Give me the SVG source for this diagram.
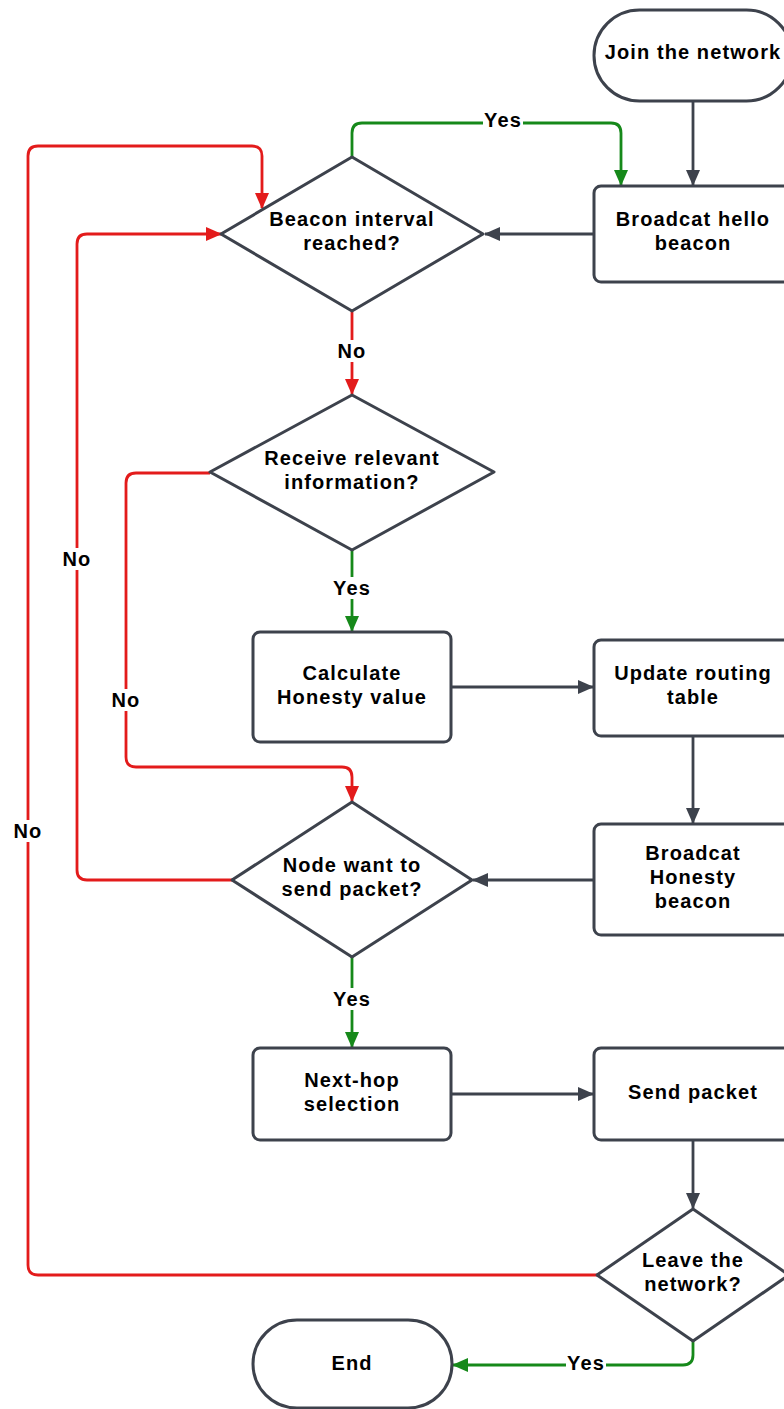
<svg xmlns="http://www.w3.org/2000/svg" width="784" height="1409" viewBox="0 0 784 1409">
<style>
.n{fill:#fff;stroke:#3d424c;stroke-width:3;stroke-linejoin:round}
.t{font-family:"Liberation Sans",Arial,sans-serif;font-weight:bold;font-size:20px;letter-spacing:1.1px;fill:#000;text-anchor:middle}
.c{fill:none;stroke-width:2.8;stroke-linejoin:round}
.k{stroke:#3d424c}
.r{stroke:#e31b1b}
.g{stroke:#16891a}
.lb{fill:#fff}
</style>
<defs>
<marker id="ak" markerUnits="userSpaceOnUse" markerWidth="16" markerHeight="14" refX="15" refY="7" orient="auto"><path d="M0,0 L16,7 L0,14 Z" fill="#3d424c"/></marker>
<marker id="ar" markerUnits="userSpaceOnUse" markerWidth="16" markerHeight="14" refX="15" refY="7" orient="auto"><path d="M0,0 L16,7 L0,14 Z" fill="#e31b1b"/></marker>
<marker id="ag" markerUnits="userSpaceOnUse" markerWidth="16" markerHeight="14" refX="15" refY="7" orient="auto"><path d="M0,0 L16,7 L0,14 Z" fill="#16891a"/></marker>
</defs>
<rect width="784" height="1409" fill="#fff"/>
<g id="connectors">
<path class="c k" d="M693,101 V185" marker-end="url(#ak)"/>
<path class="c k" d="M594,234 H485" marker-end="url(#ak)"/>
<path class="c g" d="M352,157 V133 Q352,123 362,123 H611 Q621,123 621,133 V185" marker-end="url(#ag)"/>
<path class="c r" d="M597,1275 H38 Q28,1275 28,1265 V156 Q28,146 38,146 H252 Q262,146 262,156 V208" marker-end="url(#ar)"/>
<path class="c r" d="M232,880 H87 Q77,880 77,870 V244 Q77,234 87,234 H221" marker-end="url(#ar)"/>
<path class="c r" d="M352,312 V394" marker-end="url(#ar)"/>
<path class="c r" d="M210,473 H136 Q126,473 126,483 V757 Q126,767 136,767 H342 Q352,767 352,777 V801" marker-end="url(#ar)"/>
<path class="c g" d="M352,550 V631" marker-end="url(#ag)"/>
<path class="c k" d="M451,687 H593" marker-end="url(#ak)"/>
<path class="c k" d="M693,736 V823" marker-end="url(#ak)"/>
<path class="c k" d="M594,880 H473" marker-end="url(#ak)"/>
<path class="c g" d="M352,957 V1047" marker-end="url(#ag)"/>
<path class="c k" d="M451,1094 H593" marker-end="url(#ak)"/>
<path class="c k" d="M693,1140 V1208" marker-end="url(#ak)"/>
<path class="c g" d="M693,1341 V1355 Q693,1365 683,1365 H453" marker-end="url(#ag)"/>
<rect class="lb" x="483" y="110" width="40" height="22"/>
<text class="t" x="503" y="127">Yes</text>
<rect class="lb" x="336" y="340" width="32" height="22"/>
<text class="t" x="352" y="358">No</text>
<rect class="lb" x="332" y="577" width="40" height="22"/>
<text class="t" x="352" y="595">Yes</text>
<rect class="lb" x="61" y="548" width="32" height="22"/>
<text class="t" x="77" y="566">No</text>
<rect class="lb" x="110" y="689" width="32" height="22"/>
<text class="t" x="126" y="707">No</text>
<rect class="lb" x="12" y="820" width="32" height="22"/>
<text class="t" x="28" y="838">No</text>
<rect class="lb" x="332" y="988" width="40" height="22"/>
<text class="t" x="352" y="1006">Yes</text>
<rect class="lb" x="566" y="1352" width="40" height="22"/>
<text class="t" x="586" y="1370">Yes</text>
</g>
<g id="join"><rect class="n" x="594" y="10" width="198" height="91" rx="45.5"/><text class="t" x="693" y="59">Join the network</text></g>
<g id="hello"><rect class="n" x="594" y="186" width="198" height="96" rx="7"/><text class="t" x="693" y="226">Broadcat hello</text><text class="t" x="693" y="250">beacon</text></g>
<g id="beacon"><path class="n" d="M352,157 L483,234 L352,311 L221,234 Z"/><text class="t" x="352" y="226">Beacon interval</text><text class="t" x="352" y="250">reached?</text></g>
<g id="receive"><path class="n" d="M352,395 L494,472 L352,550 L210,472 Z"/><text class="t" x="352" y="465">Receive relevant</text><text class="t" x="352" y="489">information?</text></g>
<g id="calc"><rect class="n" x="253" y="632" width="198" height="110" rx="7"/><text class="t" x="352" y="680">Calculate</text><text class="t" x="352" y="704">Honesty value</text></g>
<g id="update"><rect class="n" x="594" y="640" width="198" height="96" rx="7"/><text class="t" x="693" y="680">Update routing</text><text class="t" x="693" y="704">table</text></g>
<g id="honesty"><rect class="n" x="594" y="824" width="198" height="111" rx="7"/><text class="t" x="693" y="860">Broadcat</text><text class="t" x="693" y="884">Honesty</text><text class="t" x="693" y="908">beacon</text></g>
<g id="want"><path class="n" d="M352,802 L472,880 L352,957 L232,880 Z"/><text class="t" x="352" y="872">Node want to</text><text class="t" x="352" y="896">send packet?</text></g>
<g id="nexthop"><rect class="n" x="253" y="1048" width="198" height="92" rx="7"/><text class="t" x="352" y="1087">Next-hop</text><text class="t" x="352" y="1111">selection</text></g>
<g id="send"><rect class="n" x="594" y="1048" width="198" height="92" rx="7"/><text class="t" x="693" y="1099">Send packet</text></g>
<g id="leave"><path class="n" d="M693,1209 L789,1275 L693,1341 L597,1275 Z"/><text class="t" x="693" y="1267">Leave the</text><text class="t" x="693" y="1291">network?</text></g>
<g id="end"><rect class="n" x="253" y="1320" width="199" height="88" rx="44"/><text class="t" x="352" y="1370">End</text></g>
</svg>
